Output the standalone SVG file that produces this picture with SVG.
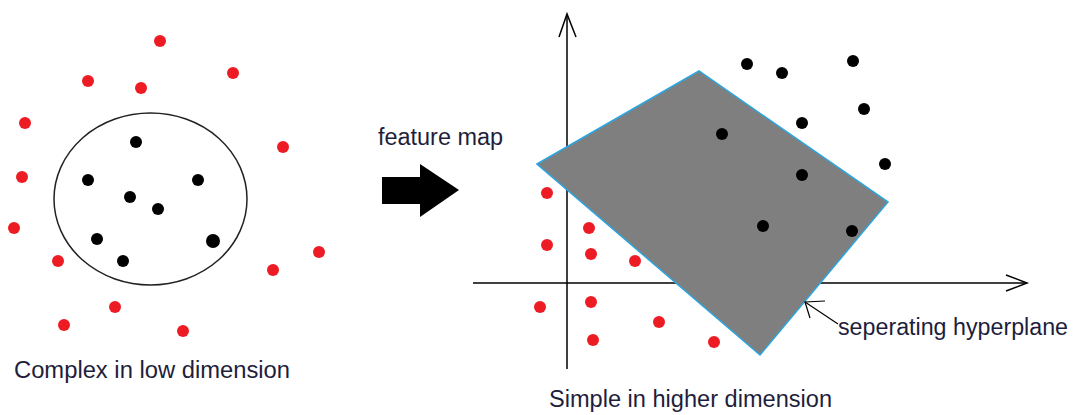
<svg xmlns="http://www.w3.org/2000/svg" width="1074" height="415" viewBox="0 0 1074 415">
<style>
.r{fill:#ed1c24}
.b{fill:#000}
.t{font-family:"Liberation Sans",Arial,sans-serif;font-size:23px;fill:#1e1e3c}
.ax{stroke:#000;stroke-width:1.5;fill:none}
</style>
<rect width="1074" height="415" fill="#fff"/>
<g id="left-panel">
<ellipse cx="150.5" cy="199" rx="96.5" ry="86" fill="none" stroke="#222" stroke-width="1.5"/>
<g class="r">
<circle cx="160" cy="41" r="6"/><circle cx="88" cy="81" r="6"/><circle cx="141" cy="88" r="6"/><circle cx="233" cy="73" r="6"/>
<circle cx="25" cy="123" r="6"/><circle cx="283" cy="147" r="6"/><circle cx="22" cy="177" r="6"/><circle cx="14" cy="228" r="6"/>
<circle cx="58" cy="261" r="6"/><circle cx="319" cy="252" r="6"/><circle cx="273" cy="270" r="6"/><circle cx="115" cy="307" r="6"/>
<circle cx="64" cy="325" r="6"/><circle cx="183" cy="331" r="6"/>
</g>
<g class="b">
<circle cx="136" cy="142" r="6"/><circle cx="88" cy="180" r="6"/><circle cx="198" cy="180" r="6"/><circle cx="130" cy="197" r="6"/>
<circle cx="158" cy="209" r="6"/><circle cx="97" cy="239" r="6"/><circle cx="213" cy="241" r="7"/><circle cx="123" cy="261" r="6"/>
</g>
<text class="t" x="14" y="378" textLength="276" lengthAdjust="spacingAndGlyphs">Complex in low dimension</text>
</g>
<g id="feature-map">
<polygon points="382,177 420,177 420,164 459,190 420,217 420,204 382,204" fill="#000"/>
<text class="t" x="378" y="145" textLength="125" lengthAdjust="spacingAndGlyphs">feature map</text>
</g>
<g id="connectors">
<line class="ax" x1="567" y1="14" x2="567" y2="369"/>
<polyline class="ax" points="559,37 567,14 576,37"/>
<line class="ax" x1="473" y1="283" x2="1027" y2="283"/>
<polyline class="ax" points="1006,275 1027,283 1006,291"/>
</g>
<g id="hyperplane">
<polygon points="537,164 699,71 888,202 760,355" fill="#7f7f7f" stroke="#2aa6e0" stroke-width="1.5"/>
</g>
<g id="right-points">
<g class="b">
<circle cx="747" cy="64" r="6"/><circle cx="782" cy="73" r="6"/><circle cx="853" cy="61" r="6"/><circle cx="864" cy="109" r="6"/>
<circle cx="802" cy="123" r="6"/><circle cx="722" cy="134" r="6"/><circle cx="885" cy="164" r="6"/><circle cx="802" cy="175" r="6"/>
<circle cx="763" cy="226" r="6"/><circle cx="852" cy="231" r="6"/>
</g>
<g class="r">
<circle cx="547" cy="193" r="6"/><circle cx="589" cy="228" r="6"/><circle cx="547" cy="245" r="6"/><circle cx="591" cy="254" r="6"/>
<circle cx="635" cy="261" r="6"/><circle cx="540" cy="307" r="6"/><circle cx="591" cy="302" r="6"/><circle cx="659" cy="322" r="6"/>
<circle cx="593" cy="340" r="6"/><circle cx="714" cy="342" r="6"/>
</g>
</g>
<g id="hyperplane-label">
<line x1="838" y1="324" x2="805" y2="302" stroke="#000" stroke-width="1.2"/>
<polyline points="825,301 805,302 810,318" fill="none" stroke="#000" stroke-width="1.2"/>
<text class="t" x="838" y="335" textLength="230" lengthAdjust="spacingAndGlyphs">seperating hyperplane</text>
</g>
<text class="t" x="549" y="407" textLength="283" lengthAdjust="spacingAndGlyphs">Simple in higher dimension</text>
</svg>
